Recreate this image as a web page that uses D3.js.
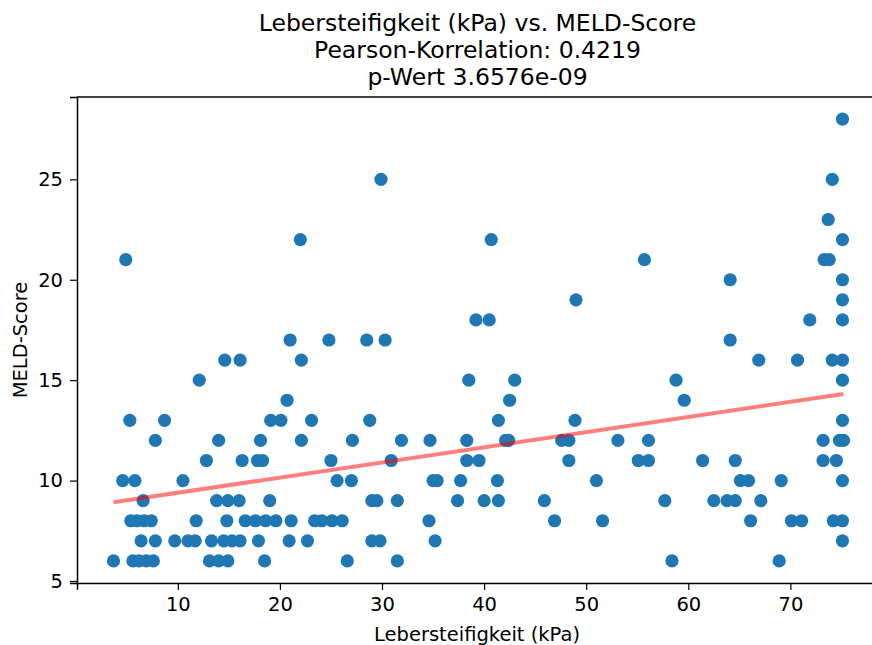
<!DOCTYPE html>
<html>
<head>
<meta charset="utf-8">
<script src="https://cdn.jsdelivr.net/npm/d3@7"></script>
<style>
  html, body { margin: 0; padding: 0; background: #fff; }
  svg { display: block; font-family: "DejaVu Sans", sans-serif; }
</style>
</head>
<body>
<svg id="chart" width="872" height="645"></svg>
<script>
// Liver stiffness (kPa) per patient, grouped by MELD score
const meldLevels = [28, 25, 23, 22, 21, 20, 19, 18, 17, 16, 15, 14, 13, 12, 11, 10, 9, 8, 7, 6];
const kpaByMeld = [
  [75.1],
  [29.9, 74.1],
  [73.7],
  [22.0, 40.7, 75.1],
  [4.9, 55.7, 73.3, 73.8],
  [64.1, 75.1],
  [49.0, 75.1],
  [39.2, 40.5, 71.9, 75.1],
  [21.0, 24.8, 28.5, 30.3, 64.1],
  [14.6, 16.1, 22.1, 66.9, 70.7, 74.1, 75.1],
  [12.1, 38.5, 43.0, 58.8, 75.1],
  [20.7, 42.5, 59.6],
  [5.3, 8.7, 19.1, 20.1, 23.1, 28.8, 41.4, 48.9, 75.1],
  [7.8, 14.0, 18.1, 22.1, 27.1, 31.9, 34.7, 38.3, 42.1, 42.4, 47.6, 48.3, 53.1, 56.1, 73.2, 74.8, 75.2],
  [12.8, 16.3, 17.8, 18.3, 25.0, 30.9, 38.3, 39.5, 48.3, 55.1, 56.1, 61.4, 64.6, 73.2, 74.5],
  [4.6, 5.8, 10.5, 25.6, 27.0, 35.0, 35.4, 37.7, 41.3, 51.0, 65.1, 65.9, 69.1, 75.1],
  [6.6, 13.8, 14.9, 16.0, 19.0, 29.0, 29.5, 31.5, 37.4, 40.0, 41.4, 45.9, 57.7, 62.5, 63.8, 64.6, 67.1],
  [5.4, 6.0, 6.7, 7.4, 11.8, 14.8, 16.6, 17.6, 18.6, 19.6, 21.1, 23.4, 24.1, 25.1, 26.1, 34.6, 46.9, 51.6, 66.1, 70.1, 71.1, 74.2, 75.1],
  [6.4, 7.8, 9.7, 11.0, 11.7, 13.3, 14.5, 15.3, 16.1, 17.9, 20.9, 22.7, 29.0, 29.8, 35.2, 75.1],
  [3.7, 5.6, 6.2, 6.9, 7.6, 13.1, 14.0, 14.9, 18.5, 26.6, 31.5, 58.4, 68.9]
];
const xTicks = [10, 20, 30, 40, 50, 60, 70];
const yTicks = [5, 10, 15, 20, 25];
const titleLines = [
  "Lebersteifigkeit (kPa) vs. MELD-Score",
  "Pearson-Korrelation: 0.4219",
  "p-Wert 3.6576e-09"
];

const points = [];
meldLevels.forEach((m, i) => kpaByMeld[i].forEach(k => points.push({ x: k, y: m })));

const svg = d3.select("#chart");
const plot = { left: 77, right: 880, top: 97, bottom: 583 };

// 5% padding around the data range
const xExt = d3.extent(points, d => d.x), yExt = d3.extent(points, d => d.y);
const xPad = (xExt[1] - xExt[0]) * 0.05, yPad = (yExt[1] - yExt[0]) * 0.05;
const x = d3.scaleLinear().domain([xExt[0] - xPad, xExt[1] + xPad]).range([plot.left, plot.right]);
const y = d3.scaleLinear().domain([yExt[0] - yPad, yExt[1] + yPad]).range([plot.bottom, plot.top]);

// Least-squares fit line
const mx = d3.mean(points, d => d.x), my = d3.mean(points, d => d.y);
const slope = d3.sum(points, d => (d.x - mx) * (d.y - my)) / d3.sum(points, d => (d.x - mx) ** 2);
const intercept = my - slope * mx;

svg.append("defs").append("clipPath").attr("id", "clip")
  .append("rect").attr("x", plot.left).attr("y", plot.top)
  .attr("width", plot.right - plot.left).attr("height", plot.bottom - plot.top);

const g = svg.append("g").attr("clip-path", "url(#clip)");
g.selectAll("circle").data(points).join("circle")
  .attr("cx", d => x(d.x)).attr("cy", d => y(d.y)).attr("r", 6.6)
  .attr("fill", "#1f77b4");

g.append("line")
  .attr("x1", x(xExt[0])).attr("y1", y(intercept + slope * xExt[0]))
  .attr("x2", x(xExt[1])).attr("y2", y(intercept + slope * xExt[1]))
  .attr("stroke", "red").attr("stroke-opacity", 0.5).attr("stroke-width", 4);

// Axes
const xAxis = svg.append("g").attr("transform", `translate(0,${plot.bottom})`)
  .call(d3.axisBottom(x).tickValues(xTicks).tickSize(7).tickPadding(7));
const yAxis = svg.append("g").attr("transform", `translate(${plot.left},0)`)
  .call(d3.axisLeft(y).tickValues(yTicks).tickSize(7).tickPadding(7));
[xAxis, yAxis].forEach(a => {
  a.select(".domain").attr("stroke", "#000").attr("stroke-width", 1.5);
  a.selectAll(".tick line").attr("stroke", "#000").attr("stroke-width", 1.2);
  a.selectAll(".tick text").attr("fill", "#000").attr("font-size", 19.5)
    .attr("font-family", "DejaVu Sans, sans-serif");
});
// top spine
svg.append("line").attr("x1", plot.left).attr("x2", plot.right)
  .attr("y1", plot.top).attr("y2", plot.top)
  .attr("stroke", "#000").attr("stroke-width", 1.5);

// Titles and labels
svg.append("g").selectAll("text").data(titleLines).join("text")
  .attr("x", 477.5).attr("y", (d, i) => 31 + i * 27)
  .attr("text-anchor", "middle").attr("font-size", 23.5).attr("fill", "#000")
  .text(d => d);

svg.append("text").attr("x", 477).attr("y", 641)
  .attr("text-anchor", "middle").attr("font-size", 19.5).attr("fill", "#000")
  .text("Lebersteifigkeit (kPa)");

svg.append("text").attr("transform", `translate(27,340) rotate(-90)`)
  .attr("text-anchor", "middle").attr("font-size", 19.5).attr("fill", "#000")
  .text("MELD-Score");
</script>
</body>
</html>
